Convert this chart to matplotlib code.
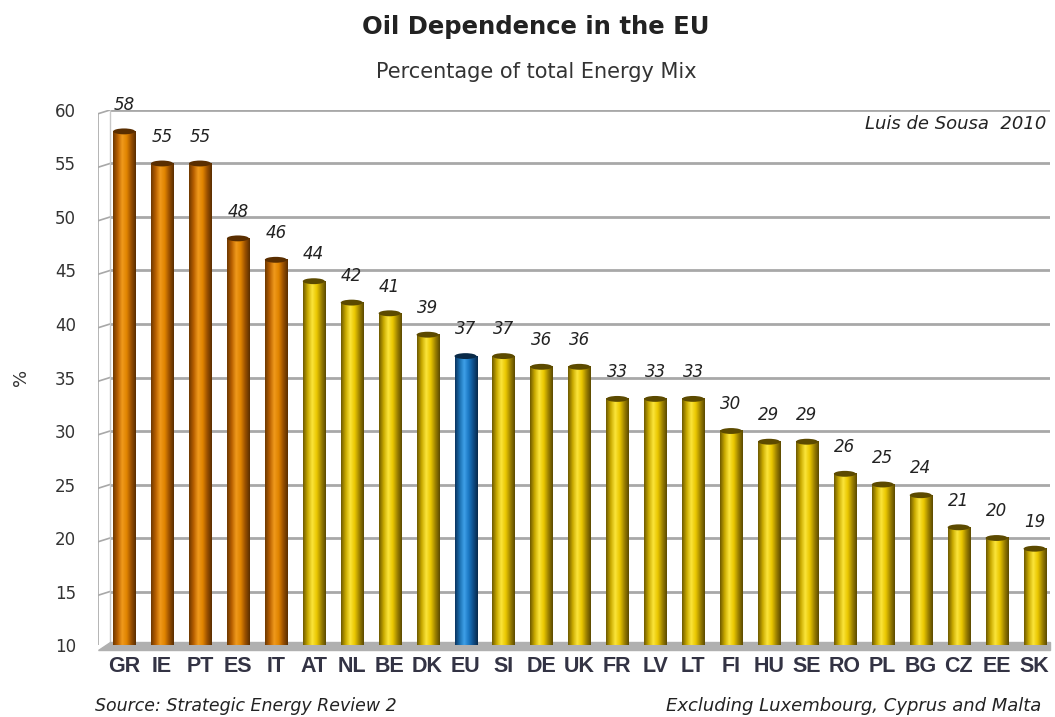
import numpy as np
import matplotlib
matplotlib.use("Agg")
import matplotlib.pyplot as plt
from matplotlib.colors import LinearSegmentedColormap
from matplotlib.patches import Ellipse, Polygon

plt.rcParams["font.family"] = ["DejaVu Sans"]

# Data
countries = ["GR", "IE", "PT", "ES", "IT", "AT", "NL", "BE", "DK", "EU", "SI", "DE", "UK",
             "FR", "LV", "LT", "FI", "HU", "SE", "RO", "PL", "BG", "CZ", "EE", "SK"]
values = [58, 55, 55, 48, 46, 44, 42, 41, 39, 37, 37, 36, 36,
          33, 33, 33, 30, 29, 29, 26, 25, 24, 21, 20, 19]
groups = ["high"] * 5 + ["mid"] * 4 + ["eu"] + ["mid"] * 15

palettes = {
    "high": ["#6e3800", "#b86000", "#f09a1c", "#e08400", "#9a5000", "#5a2e00"],
    "mid": ["#6e5a00", "#c9aa00", "#fbe43a", "#ebc800", "#a08400", "#5c4a00"],
    "eu": ["#0a3560", "#1a6fb0", "#3fa0e8", "#1b78c4", "#0f4f8a", "#082a4c"],
}
cap_colors = {"high": "#5a2e00", "mid": "#5c4a00", "eu": "#0a2a48"}

fig = plt.figure(figsize=(10.55, 7.17), dpi=100)
ax = fig.add_axes([0.093, 0.1004, 0.902, 0.7462])
x_lo, x_hi = -0.685, 24.4
wall = -0.37

# back wall gridlines with perspective stubs
ticks = np.arange(10, 61, 5)
for t in ticks:
    ax.plot([wall, x_hi], [t, t], color="#a8a8a8", lw=2, zorder=1, solid_capstyle="butt")
    ax.plot([x_lo, wall], [t - 0.35, t], color="#a8a8a8", lw=1.2, zorder=1)
ax.plot([x_lo, x_lo], [10 - 0.35, 60 - 0.35], color="#a8a8a8", lw=1.2, zorder=1)
ax.plot([wall, wall], [10, 60], color="#c8c8c8", lw=1, zorder=1)

# floor
floor = Polygon([[x_lo, 9.5], [x_hi, 9.5], [x_hi, 10.3], [wall, 10.3]],
                closed=True, color="#b0b0b0", zorder=1.5, clip_on=False)
ax.add_patch(floor)

bar_w = 0.58
for i, (c, v, g) in enumerate(zip(countries, values, groups)):
    cmap = LinearSegmentedColormap.from_list(g, palettes[g])
    grad = np.linspace(0, 1, 64).reshape(1, -1)
    ax.imshow(grad, cmap=cmap, aspect="auto", extent=[i - bar_w / 2, i + bar_w / 2, 9.7, v],
              zorder=2, interpolation="bilinear")
    cap = Ellipse((i, v), bar_w, 0.55, facecolor=cap_colors[g], edgecolor="none", zorder=3)
    ax.add_patch(cap)
    ax.text(i, v + 2.5, str(v), ha="center", va="center", fontsize=12,
            style="italic", color="#222222", zorder=4, clip_on=False)

ax.set_xlim(x_lo, x_hi)
ax.set_ylim(10, 60)

ax.set_yticks(ticks)
ax.set_yticklabels([str(t) for t in ticks], fontsize=12, color="#333333")
ax.tick_params(axis="y", length=0, pad=16)
ax.set_xticks(range(len(countries)))
ax.set_xticklabels(countries, fontsize=15.5, fontweight="bold", color="#333344",
                   family="Liberation Sans")
ax.tick_params(axis="x", length=0, pad=8)
for s in ax.spines.values():
    s.set_visible(False)

ax.set_ylabel("%", fontsize=13, color="#333333", labelpad=18)

fig.text(0.508, 0.962, "Oil Dependence in the EU", ha="center", va="center",
         fontsize=17.5, fontweight="bold", color="#222222")
fig.text(0.508, 0.9, "Percentage of total Energy Mix", ha="center", va="center",
         fontsize=15, color="#333333")
fig.text(0.992, 0.827, "Luis de Sousa  2010", ha="right", va="center",
         fontsize=13, style="italic", color="#222222")
fig.text(0.09, 0.016, "Source: Strategic Energy Review 2", ha="left", va="center",
         fontsize=12.5, style="italic", color="#222222")
fig.text(0.987, 0.016, "Excluding Luxembourg, Cyprus and Malta", ha="right", va="center",
         fontsize=13, style="italic", color="#222222")

fig.savefig("out.png", dpi=100)
